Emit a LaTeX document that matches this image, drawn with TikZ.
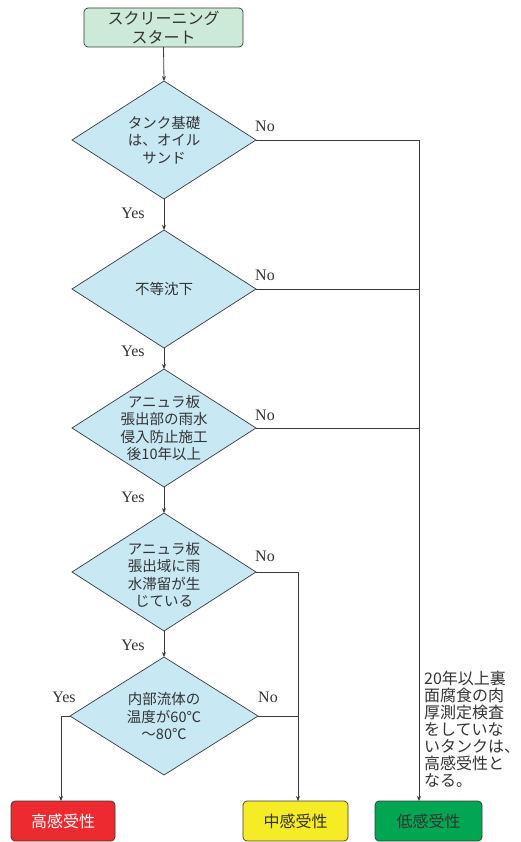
\documentclass[tikz,border=0pt]{standalone}
\usepackage{fontspec}
\setmainfont{Liberation Serif}
\newfontfamily\jp{Noto Sans CJK JP}
\usetikzlibrary{shapes.geometric,arrows.meta}
\definecolor{lineC}{HTML}{3A3A3A}
\definecolor{diaC}{HTML}{C8E8F4}
\definecolor{startC}{HTML}{CDE9D7}
\definecolor{redC}{HTML}{EC2A2F}
\definecolor{yelC}{HTML}{F6EC26}
\definecolor{grnC}{HTML}{00A651}
\definecolor{txtC}{HTML}{333333}
\begin{document}
\begin{tikzpicture}[x=1pt,y=-1pt,
  line/.style={draw=lineC, line width=0.8pt},
  arr/.style={line, -{Stealth[length=5pt,width=4pt]}},
  dia/.style={diamond, draw=lineC, line width=0.7pt, fill=diaC, minimum width=184pt, minimum height=118pt, inner sep=0pt, outer sep=0pt},
  dtext/.style={font=\jp\fontsize{14.5}{17.5}\selectfont, text=txtC, align=center, inner sep=0pt},
  box/.style={rounded corners=4pt, draw=lineC, line width=0.7pt, minimum height=40pt, font=\jp\fontsize{16}{19}\selectfont, text=txtC, align=center, inner sep=0pt, outer sep=0pt},
  lab/.style={font=\fontsize{16}{18}\selectfont, text=txtC, inner sep=0pt}]
\useasboundingbox (0,0) rectangle (521,842);

\node[box, fill=startC, minimum width=159pt, minimum height=39pt] (start) at (163.5,27.5) {スクリーニング\\スタート};

\node[dia] (d1) at (164,140) {};
\node[dtext] (t1) at (d1) {タンク基礎\\は、オイル\\サンド};
\node[dia] (d2) at (164,289) {};
\node[dtext] (t2) at (d2) {不等沈下};
\node[dia] (d3) at (164,428) {};
\node[dtext] (t3) at (d3) {アニュラ板\\張出部の雨水\\侵入防止施工\\後10年以上};
\node[dia] (d4) at (164,572) {};
\node[dtext] (t4) at ([yshift=-3pt]d4.center) {アニュラ板\\張出域に雨\\水滞留が生\\じている};
\node[dia, minimum width=188pt] (d5) at (164,716) {};
\node[dtext] (t5) at (d5) {内部流体の\\温度が60℃\\～80℃};

\node[box, fill=redC, text=white, minimum width=104pt] (high) at (63,821) {高感受性};
\node[box, fill=yelC, minimum width=105pt] (mid) at (295.5,821) {中感受性};
\node[box, fill=grnC, minimum width=107pt] (low) at (428.5,821) {低感受性};

\node[font=\jp\fontsize{16}{17}\selectfont, text=txtC, align=left, anchor=north west, inner sep=0pt] (note) at (424,671) {20年以上裏\\面腐食の肉\\厚測定検査\\をしていな\\いタンクは、\\高感受性と\\なる。};

\node[lab] (n1) at (265,126) {No};
\node[lab] (n2) at (265,275) {No};
\node[lab] (n3) at (265,415) {No};
\node[lab] (n4) at (265,556) {No};
\node[lab] (n5) at (268,697) {No};
\node[lab] (y1) at (133,213) {Yes};
\node[lab] (y2) at (133,351) {Yes};
\node[lab] (y3) at (133,497) {Yes};
\node[lab] (y4) at (133,645) {Yes};
\node[lab] (y5) at (64,697) {Yes};

\coordinate (rx) at ([xshift=-9.5pt]low.north);
\coordinate (mx) at ([xshift=2.5pt]mid.north);
\coordinate (hx) at ([xshift=-2pt]high.north);

\draw[arr] (start.south) -- (d1.north);
\draw[arr] (d1.south) -- (d2.north);
\draw[arr] (d2.south) -- (d3.north);
\draw[arr] (d3.south) -- (d4.north);
\draw[arr] (d4.south) -- (d5.north);
\draw[arr] (d1.east) -| (rx);
\draw[line] (d2.east) -- (d2.east -| rx);
\draw[line] (d3.east) -- (d3.east -| rx);
\draw[arr] (d4.east) -| (mx);
\draw[line] (d5.east) -- (d5.east -| mx);
\draw[arr] (d5.west) -| (hx);
\end{tikzpicture}
\end{document}
